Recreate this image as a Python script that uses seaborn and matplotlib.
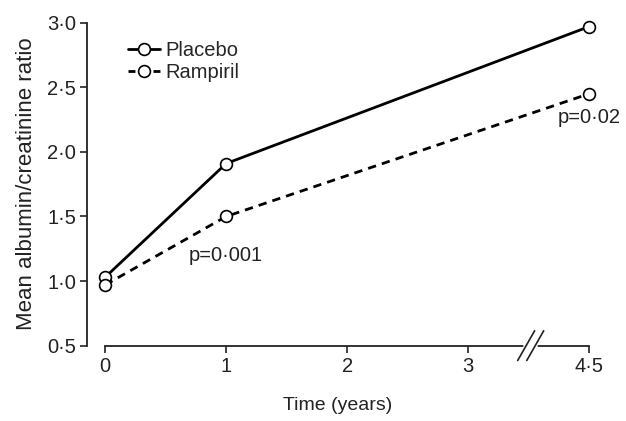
import numpy as np
import pandas as pd
import seaborn as sns
import matplotlib.pyplot as plt
from matplotlib.lines import Line2D
import matplotlib.transforms as mtransforms

sns.set_theme(style="ticks")
plt.rcParams["font.family"] = ["Liberation Sans", "DejaVu Sans"]

# data
time_years = [0, 1, 4.5]
placebo = [1.03, 1.91, 2.97]
rampiril = [0.97, 1.50, 2.45]
x_ticks = [0, 1, 2, 3, 4.5]
x_ticklabels = ["0", "1", "2", "3", "4·5"]
y_ticks = [0.5, 1.0, 1.5, 2.0, 2.5, 3.0]
y_ticklabels = ["0·5", "1·0", "1·5", "2·0", "2·5", "3·0"]


# broken x axis: 3 -> 4.5 squeezed into one unit
def axis_pos(t):
    t = np.asarray(t, dtype=float)
    return np.where(t <= 3, t, 3 + (t - 3) / 1.5)


df = pd.DataFrame({"pos": axis_pos(time_years), "Placebo": placebo, "Rampiril": rampiril})

fs = 14.5
ink = "#222222"
fig, ax = plt.subplots(figsize=(6.26, 4.21), dpi=100, facecolor="w")
fig.subplots_adjust(left=0.139, right=0.941, top=0.946, bottom=0.179)

mk = dict(marker="o", markersize=8.5, markerfacecolor="white", markeredgecolor="black",
          markeredgewidth=1.2, color="black")
dash = (0, (3, 2.2))
sns.lineplot(data=df, x="pos", y="Placebo", ax=ax, lw=2.0, zorder=3, clip_on=False, **mk)
sns.lineplot(data=df, x="pos", y="Rampiril", ax=ax, lw=2.0, linestyle=dash, zorder=3, clip_on=False, **mk)

ax.set_xlim(-0.15, 4.0)
ax.set_ylim(0.5, 3.0)
ax.set_xticks(axis_pos(x_ticks))
ax.set_xticklabels(x_ticklabels, fontsize=fs)
ax.set_yticks(y_ticks)
ax.set_yticklabels(y_ticklabels, fontsize=fs)
ax.spines["bottom"].set_bounds(0, 4)
for s in ["top", "right"]:
    ax.spines[s].set_visible(False)
for s in ["left", "bottom"]:
    ax.spines[s].set_linewidth(1.3)
    ax.spines[s].set_color(ink)
ax.tick_params(axis="both", length=5, width=1.2, color=ink, pad=3, labelcolor=ink)
ax.set_xlabel("Time (years)", fontsize=14, labelpad=15, color=ink)
ax.set_ylabel("Mean albumin/creatinine ratio", fontsize=16, labelpad=7, color=ink)

# axis break marks
trans = mtransforms.blended_transform_factory(ax.transData, ax.transAxes)
ax.plot([3.48, 3.55], [0, 0], color="white", lw=4, transform=trans, clip_on=False, zorder=5)
for xc in [3.48, 3.555]:
    ax.plot([xc - 0.07, xc + 0.07], [-0.046, 0.046], color=ink, lw=1.2,
            transform=trans, clip_on=False, zorder=6)

# p values
ax.text(1.0, 1.2, "p=0·001", fontsize=fs, ha="center", va="center", color=ink)
ax.text(4.0, 2.27, "p=0·02", fontsize=fs, ha="center", va="center", color=ink)

# legend: dashed handle shows one dash each side of the marker
handles = [
    Line2D([], [], lw=2.0, **mk),
    Line2D([], [], lw=2.0, linestyle=(0, (2.5, 6.5)), **mk),
]
ax.legend(handles, ["Placebo", "Rampiril"], loc="upper left", bbox_to_anchor=(0.045, 1.0),
          frameon=False, fontsize=fs, handlelength=1.6, handletextpad=0.25, labelspacing=0.15)

fig.savefig("out.png", dpi=100)
